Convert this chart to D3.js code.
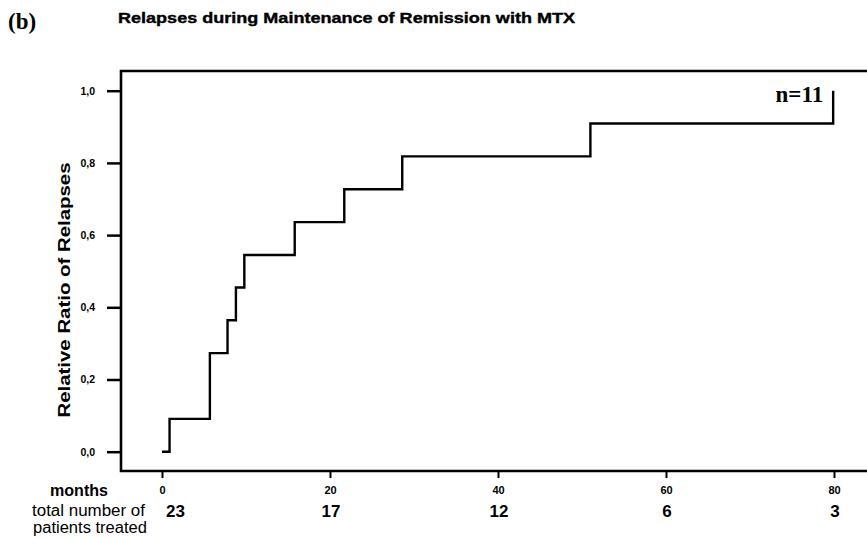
<!DOCTYPE html>
<html>
<head>
<meta charset="utf-8">
<script src="https://cdn.jsdelivr.net/npm/d3@7"></script>
<style>
  html, body { margin: 0; padding: 0; background: #fff; }
  svg { display: block; }
</style>
</head>
<body>
<svg id="chart" width="867" height="538"></svg>
<script>
// ---- data ----
const relapseMonths = [0, 0.9, 5.7, 7.8, 8.8, 9.8, 15.8, 21.7, 28.6, 51.0, 79.9];
const relapseRatio  = [0, 0.091, 0.273, 0.364, 0.455, 0.545, 0.636, 0.727, 0.818, 0.909, 1.0];
const yTickValues = [0, 0.2, 0.4, 0.6, 0.8, 1.0];
const xTickValues = [0, 20, 40, 60, 80];
const patientCounts = [23, 17, 12, 6, 3];
const titleText = "Relapses during Maintenance of Remission with MTX";
const yLabelText = "Relative Ratio of Relapses";
const nLabel = "n=11";

// ---- layout ----
const svg = d3.select("#chart");
const frame = { left: 121, top: 71, bottom: 471, right: 867 };
const x = d3.scaleLinear().domain([0, 80]).range([162, 834]);
const y = d3.scaleLinear().domain([0, 1]).range([451.7, 90.7]);
const sans = "'Liberation Sans', Arial, Helvetica, sans-serif";
const serif = "'Liberation Serif', 'Times New Roman', serif";

// title
svg.append("text")
  .attr("x", 8).attr("y", 29)
  .attr("font-family", serif).attr("font-weight", "bold").attr("font-size", 23)
  .text("(b)");
svg.append("text")
  .attr("x", 118).attr("y", 23)
  .attr("font-family", sans).attr("font-weight", "bold").attr("font-size", 15.5)
  .attr("stroke", "#000").attr("stroke-width", 0.4)
  .attr("textLength", 457).attr("lengthAdjust", "spacingAndGlyphs")
  .text(titleText);

// frame
svg.append("path")
  .attr("d", `M${frame.right},${frame.top}H${frame.left}V${frame.bottom}H${frame.right}`)
  .attr("stroke", "#000").attr("stroke-width", 2.6).attr("fill", "none");

// y axis
const yAxis = d3.axisLeft(y).tickValues(yTickValues).tickSize(14).tickPadding(12)
  .tickFormat(d => d3.format(".1f")(d).replace(".", ","));
const gy = svg.append("g").attr("transform", `translate(${frame.left},0)`).call(yAxis);
gy.select(".domain").remove();
gy.selectAll(".tick line").attr("stroke", "#000").attr("stroke-width", 2.5);
gy.selectAll(".tick text")
  .attr("font-family", sans).attr("font-weight", "bold").attr("font-size", 10.5).attr("fill", "#000");

// x axis
const xAxis = d3.axisBottom(x).tickValues(xTickValues).tickSize(7).tickPadding(8)
  .tickFormat(d3.format("d"));
const gx = svg.append("g").attr("transform", `translate(0,${frame.bottom})`).call(xAxis);
gx.select(".domain").remove();
gx.selectAll(".tick line").attr("stroke", "#000").attr("stroke-width", 2);
gx.selectAll(".tick text")
  .attr("font-family", sans).attr("font-weight", "bold").attr("font-size", 11).attr("fill", "#000");

// patient counts (first one sits to the right of its tick, others centred)
svg.append("g").selectAll("text").data(patientCounts).join("text")
  .attr("x", (d, i) => i === 0 ? x(xTickValues[i]) + 4 : x(xTickValues[i]) + 1)
  .attr("y", 517)
  .attr("text-anchor", (d, i) => i === 0 ? "start" : "middle")
  .attr("font-family", sans).attr("font-weight", "bold").attr("font-size", 17)
  .text(d => d);

// row labels
const rowLabels = [
  { t: "months", x: 50, y: 496, w: "bold", len: 58 },
  { t: "total number of", x: 32, y: 516, w: "normal", len: 113 },
  { t: "patients treated", x: 33, y: 533, w: "normal", len: 114 }
];
svg.append("g").selectAll("text").data(rowLabels).join("text")
  .attr("x", d => d.x).attr("y", d => d.y)
  .attr("font-family", sans).attr("font-weight", d => d.w).attr("font-size", 16)
  .attr("textLength", d => d.len).attr("lengthAdjust", "spacingAndGlyphs")
  .text(d => d.t);

// y label
svg.append("text")
  .attr("transform", `translate(70,290) rotate(-90)`)
  .attr("text-anchor", "middle")
  .attr("font-family", sans).attr("font-weight", "bold").attr("font-size", 16)
  .attr("textLength", 255).attr("lengthAdjust", "spacingAndGlyphs")
  .text(yLabelText);

// step curve
const pts = relapseMonths.map((m, i) => [m, relapseRatio[i]]);
const line = d3.line().x(d => x(d[0])).y(d => y(d[1])).curve(d3.curveStepAfter);
svg.append("path")
  .datum(pts)
  .attr("d", line)
  .attr("fill", "none").attr("stroke", "#000").attr("stroke-width", 2.4);

// n label
svg.append("text")
  .attr("x", x(79.9) - 10).attr("y", y(1) + 11)
  .attr("text-anchor", "end")
  .attr("font-family", serif).attr("font-weight", "bold").attr("font-size", 23)
  .text(nLabel);
</script>
</body>
</html>
